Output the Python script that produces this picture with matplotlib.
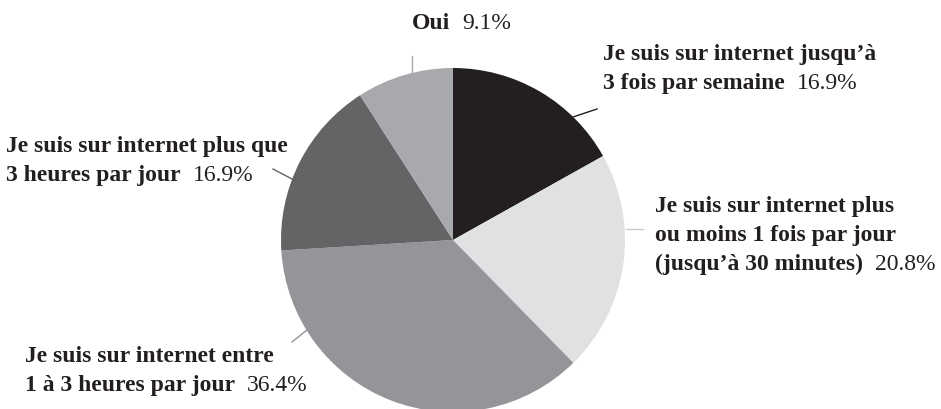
import matplotlib
matplotlib.use("Agg")
import matplotlib.pyplot as plt
from matplotlib.lines import Line2D

# data
categories = [
    "Je suis sur internet jusqu\u2019à\n3 fois par semaine",
    "Je suis sur internet plus\nou moins 1 fois par jour\n(jusqu\u2019à 30 minutes)",
    "Je suis sur internet entre\n1 à 3 heures par jour",
    "Je suis sur internet plus que\n3 heures par jour",
    "Oui",
]
values = [16.9, 20.8, 36.4, 16.9, 9.1]
colors = ["#231f20", "#e0e1e2", "#939598", "#636466", "#a7a9ac"]
leader_colors = ["#231f20", "#c8c9cb", "#939598", "#636466", "#a7a9ac"]

W, H = 941, 410
TXT = "#231f20"
FONT = "Liberation Serif"

fig = plt.figure(figsize=(W / 100, H / 100), dpi=100)
fig.set_facecolor("white")

# pie centre / radius in pixels
cx, cy, r = 453, 241, 172
ax = fig.add_axes([(cx - r) / W, 1 - (cy + r) / H, 2 * r / W, 2 * r / H])
ax.pie(values, colors=colors, startangle=90, counterclock=False,
       wedgeprops=dict(linewidth=0))
ax.set_xlim(-1, 1)
ax.set_ylim(-1, 1)
ax.set_aspect("equal")
ax.axis("off")


def fx(px):
    return px / W


def fy(py):
    return 1 - py / H


# label layout: x left, first baseline (pixels), leader line end points
layout = [
    (603, 60, ((573, 118), (597, 110))),
    (655, 212, ((626, 230), (643, 230))),
    (25, 362, ((307, 331), (292, 343))),
    (6, 152, ((292, 180), (273, 170))),
    (412, 29, ((412, 73), (412, 57))),
]
line_step = 29

renderer = fig.canvas.get_renderer()
for cat, val, lc, (x0, y0, seg) in zip(categories, values, leader_colors, layout):
    lines = cat.split("\n")
    last = None
    for i, ln in enumerate(lines):
        last = fig.text(fx(x0), fy(y0 + i * line_step), ln, fontsize=17,
                        fontweight="bold", family=FONT, color=TXT,
                        va="baseline", ha="left")
    bb = last.get_window_extent(renderer=renderer)
    fig.text(bb.x1 / W + 12 / W, fy(y0 + (len(lines) - 1) * line_step),
             f"{val}%", fontsize=17, family=FONT, color=TXT,
             va="baseline", ha="left")
    (xa, ya), (xb, yb) = seg
    fig.add_artist(Line2D([fx(xa), fx(xb)], [fy(ya), fy(yb)],
                          transform=fig.transFigure, color=lc, linewidth=1))

fig.savefig("out.png", dpi=100)
